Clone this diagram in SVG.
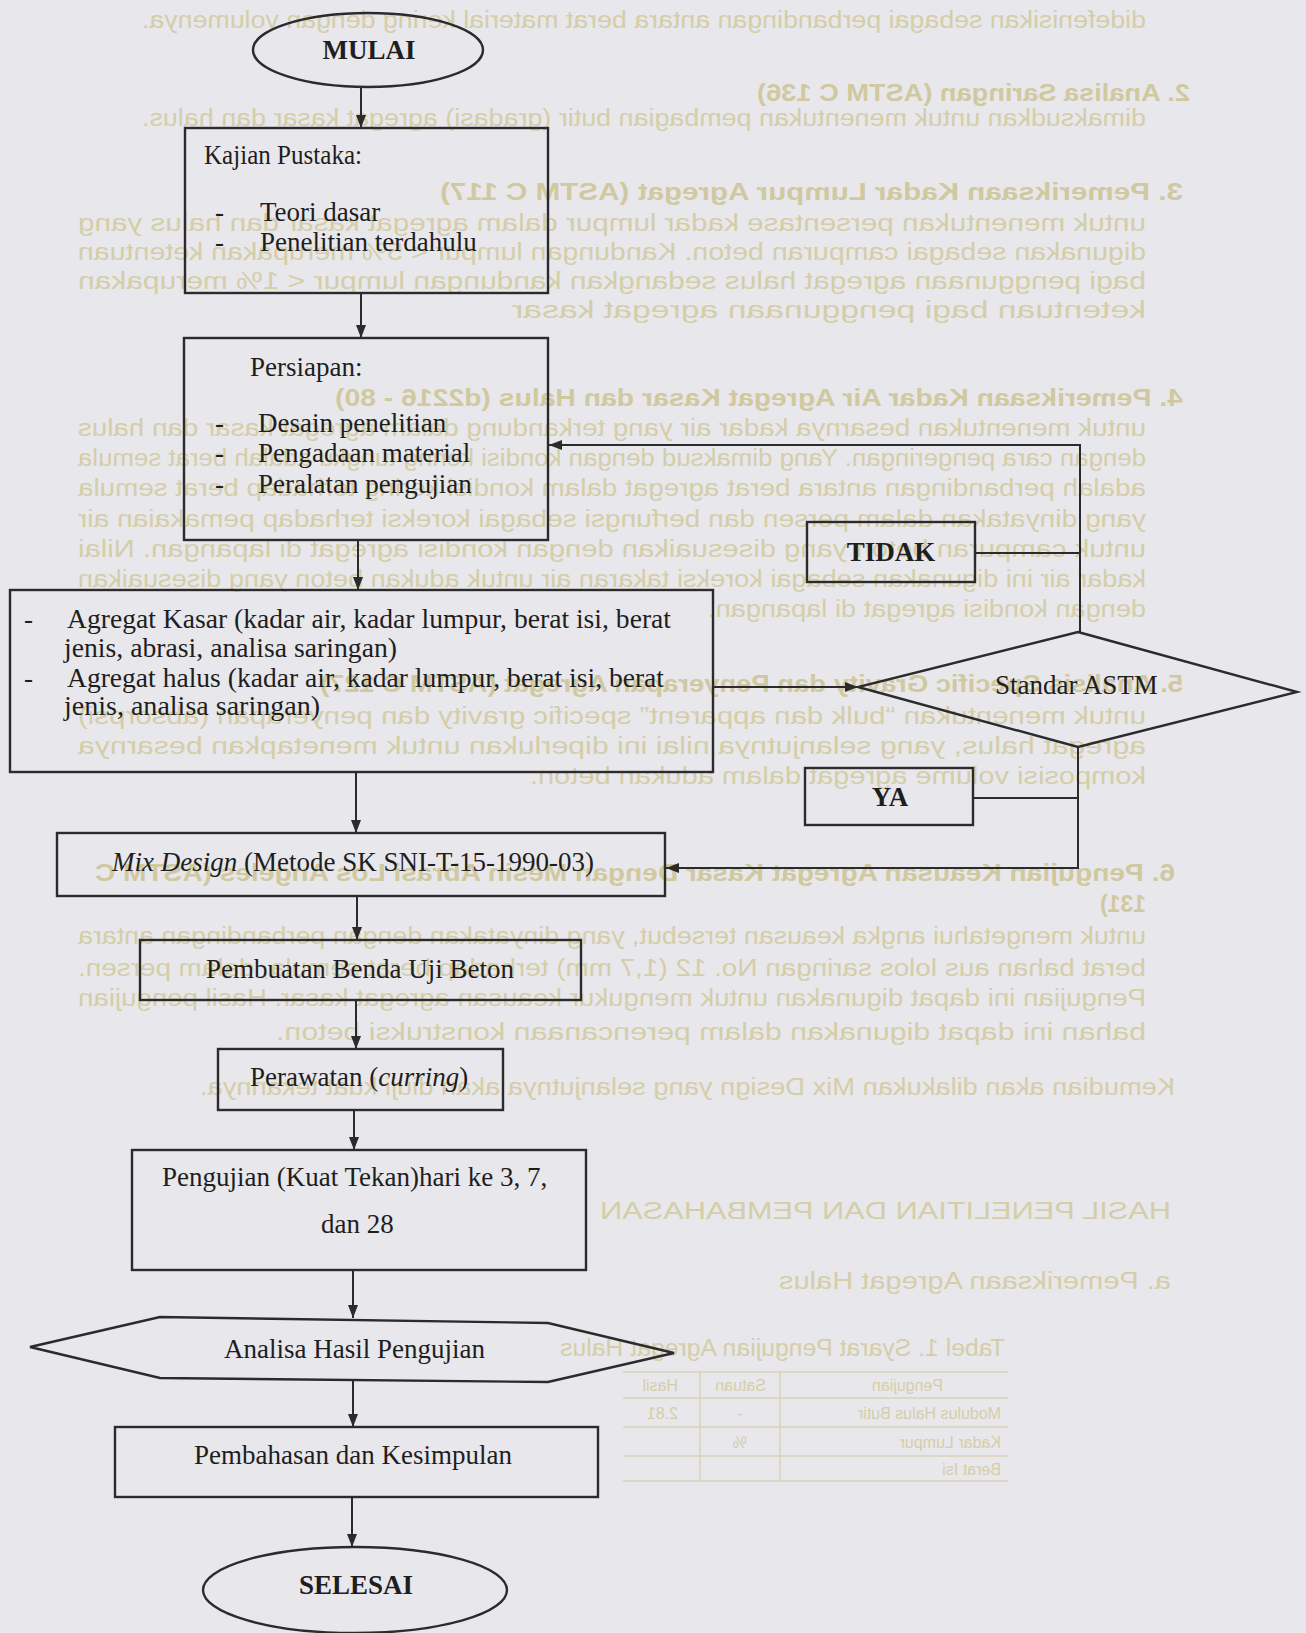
<svg xmlns="http://www.w3.org/2000/svg" width="1306" height="1633" viewBox="0 0 1306 1633">
<style>
.page{fill:#e8e7ec}
.bg{font-family:"Liberation Sans",Arial,sans-serif;font-size:23px;fill:#d4cea8}
.bgb{font-family:"Liberation Sans",Arial,sans-serif;font-size:23px;font-weight:bold;fill:#d0c99f}
.tb{font-family:"Liberation Sans",Arial,sans-serif;font-size:16px;fill:#d4cea8}
.tl{stroke:#d8d3b8;stroke-width:1.5;fill:none}
.box{fill:none;stroke:#2b2b2b;stroke-width:2.4}
.t{font-family:"Liberation Serif","Times New Roman",serif;font-size:27px;fill:#1e1e1e}
.b{font-weight:bold}
.i{font-style:italic}
.c{text-anchor:middle}
.con{fill:none;stroke:#2b2b2b;stroke-width:2}
</style>
<defs>
<marker id="ah" markerUnits="userSpaceOnUse" markerWidth="14" markerHeight="12" refX="13" refY="5" orient="auto">
<path d="M0,0 L13,5 L0,10 z" fill="#2b2b2b"/>
</marker>
</defs>
<rect class="page" x="0" y="0" width="1306" height="1633"/>
<g id="page-showthrough" transform="matrix(-1 0 0 1 1223 0)">
<text class="bg" x="77" y="28" textLength="1004" lengthAdjust="spacingAndGlyphs">didefenisikan sebagai perbandingan antara berat material kering dengan volumenya.</text>
<text class="bgb" x="33" y="101" textLength="433" lengthAdjust="spacingAndGlyphs">2. Analisa Saringan (ASTM C 136)</text>
<text class="bg" x="77" y="126" textLength="1004" lengthAdjust="spacingAndGlyphs">dimaksudkan untuk menentukan pembagian butir (gradasi) agregat kasar dan halus.</text>
<text class="bgb" x="40" y="200" textLength="743" lengthAdjust="spacingAndGlyphs">3. Pemeriksaan Kadar Lumpur Agregat (ASTM C 117)</text>
<text class="bg" x="77" y="231" textLength="1068" lengthAdjust="spacingAndGlyphs">untuk menentukan persentase kadar lumpur dalam agregat kasar dan halus yang</text>
<text class="bg" x="77" y="260" textLength="1068" lengthAdjust="spacingAndGlyphs">digunakan sebagai campuran beton. Kandungan lumpur &lt; 5% merupakan ketentuan</text>
<text class="bg" x="77" y="289" textLength="1068" lengthAdjust="spacingAndGlyphs">bagi penggunaan agregat halus sedangkan kandungan lumpur &lt; 1% merupakan</text>
<text class="bg" x="77" y="318" textLength="634" lengthAdjust="spacingAndGlyphs">ketentuan bagi penggunaan agregat kasar</text>
<text class="bgb" x="40" y="406" textLength="848" lengthAdjust="spacingAndGlyphs">4. Pemeriksaan Kadar Air Agregat Kasar dan Halus (d2216 - 80)</text>
<text class="bg" x="77" y="436" textLength="1068" lengthAdjust="spacingAndGlyphs">untuk menentukan besarnya kadar air yang terkandung dalam agregat kasar dan halus</text>
<text class="bg" x="77" y="466" textLength="1068" lengthAdjust="spacingAndGlyphs">dengan cara pengeringan. Yang dimaksud dengan kondisi kering tungku adalah berat semula</text>
<text class="bg" x="77" y="496" textLength="1068" lengthAdjust="spacingAndGlyphs">adalah perbandingan antara berat agregat dalam kondisi kering terhadap berat semula</text>
<text class="bg" x="77" y="527" textLength="1068" lengthAdjust="spacingAndGlyphs">yang dinyatakan dalam persen dan berfungsi sebagai koreksi terhadap pemakaian air</text>
<text class="bg" x="77" y="557" textLength="1068" lengthAdjust="spacingAndGlyphs">untuk campuran beton yang disesuaikan dengan kondisi agregat di lapangan. Nilai</text>
<text class="bg" x="77" y="587" textLength="1068" lengthAdjust="spacingAndGlyphs">kadar air ini digunakan sebagai koreksi takaran air untuk adukan beton yang disesuaikan</text>
<text class="bg" x="77" y="617" textLength="438" lengthAdjust="spacingAndGlyphs">dengan kondisi agregat di lapangan.</text>
<text class="bgb" x="40" y="692" textLength="863" lengthAdjust="spacingAndGlyphs">5. Analisis Specific Gravity dan Penyerapan Agregat (ASTM C 127)</text>
<text class="bg" x="77" y="724" textLength="1068" lengthAdjust="spacingAndGlyphs">untuk menentukan “bulk dan apparent” specific gravity dan penyerapan (absorpsi)</text>
<text class="bg" x="77" y="754" textLength="1068" lengthAdjust="spacingAndGlyphs">agregat halus, yang selanjutnya nilai ini diperlukan untuk menetapkan besarnya</text>
<text class="bg" x="77" y="784" textLength="616" lengthAdjust="spacingAndGlyphs">komposisi volume agregat dalam adukan beton.</text>
<text class="bgb" x="48" y="881" textLength="1080" lengthAdjust="spacingAndGlyphs">6. Pengujian Keausan Agregat Kasar Dengan Mesin Abrasi Los Angeles (ASTM C</text>
<text class="bgb" x="77" y="912">131)</text>
<text class="bg" x="77" y="944" textLength="1068" lengthAdjust="spacingAndGlyphs">untuk mengetahui angka keausan tersebut, yang dinyatakan dengan perbandingan antara</text>
<text class="bg" x="77" y="976" textLength="1068" lengthAdjust="spacingAndGlyphs">berat bahan aus lolos saringan No. 12 (1,7 mm) terhadap berat semula, dalam persen.</text>
<text class="bg" x="77" y="1006" textLength="1068" lengthAdjust="spacingAndGlyphs">Pengujian ini dapat digunakan untuk mengukur keausan agregat kasar. Hasil pengujian</text>
<text class="bg" x="77" y="1040" textLength="870" lengthAdjust="spacingAndGlyphs">bahan ini dapat digunakan dalam perencanaan konstruksi beton.</text>
<text class="bg" x="48" y="1095" textLength="975" lengthAdjust="spacingAndGlyphs">Kemudian akan dilakukan Mix Design yang selanjutnya akan diuji kuat tekannya.</text>
<text class="bg" x="52" y="1219" textLength="571" lengthAdjust="spacingAndGlyphs">HASIL PENELITIAN DAN PEMBAHASAN</text>
<text class="bg" x="52" y="1289" textLength="392" lengthAdjust="spacingAndGlyphs">a. Pemeriksaan Agregat Halus</text>
<text class="bg" x="218" y="1356" textLength="445" lengthAdjust="spacingAndGlyphs">Tabel 1. Syarat Pengujian Agregat Halus</text>
<path class="tl" d="M215,1372 H600 M215,1398 H600 M215,1427 H600 M215,1456 H600 M215,1481 H600 M443,1372 V1481 M523,1372 V1481"/>
<text class="tb" x="280" y="1391">Pengujian</text>
<text class="tb" x="457" y="1391">Satuan</text>
<text class="tb" x="545" y="1391">Hasil</text>
<text class="tb" x="222" y="1419">Modulus Halus Butir</text>
<text class="tb" x="480" y="1419">-</text>
<text class="tb" x="545" y="1419">2.81</text>
<text class="tb" x="222" y="1448">Kadar Lumpur</text>
<text class="tb" x="476" y="1448">%</text>
<text class="tb" x="222" y="1475">Berat Isi</text>
</g>
<g id="connectors">
<path class="con" d="M361,87 V128" marker-end="url(#ah)"/>
<path class="con" d="M361,293 V338" marker-end="url(#ah)"/>
<path class="con" d="M358,540 V590" marker-end="url(#ah)"/>
<path class="con" d="M356,772 V833" marker-end="url(#ah)"/>
<path class="con" d="M713,687 H858" marker-end="url(#ah)"/>
<path class="con" d="M1080,632 V445 H549" marker-end="url(#ah)"/>
<path class="con" d="M975,553 H1080"/>
<path class="con" d="M1078,747 V868 H666" marker-end="url(#ah)"/>
<path class="con" d="M973,798 H1078"/>
<path class="con" d="M357,896 V940" marker-end="url(#ah)"/>
<path class="con" d="M356,1000 V1049" marker-end="url(#ah)"/>
<path class="con" d="M354,1110 V1150" marker-end="url(#ah)"/>
<path class="con" d="M353,1270 V1318" marker-end="url(#ah)"/>
<path class="con" d="M353,1380 V1427" marker-end="url(#ah)"/>
<path class="con" d="M352,1497 V1547" marker-end="url(#ah)"/>
</g>
<g id="mulai">
<ellipse class="box" cx="368" cy="50" rx="115" ry="37"/>
<text class="t b c" x="369" y="59">MULAI</text>
</g>
<g id="kajian-pustaka">
<rect class="box" x="185" y="128" width="363" height="165"/>
<text class="t" x="204" y="164" textLength="158" lengthAdjust="spacingAndGlyphs">Kajian Pustaka:</text>
<text class="t" x="215" y="221">-</text>
<text class="t" x="260" y="221">Teori dasar</text>
<text class="t" x="215" y="251">-</text>
<text class="t" x="260" y="251">Penelitian terdahulu</text>
</g>
<g id="persiapan">
<rect class="box" x="184" y="338" width="364" height="202"/>
<text class="t" x="250" y="376">Persiapan:</text>
<text class="t" x="215" y="432">-</text>
<text class="t" x="258" y="432">Desain penelitian</text>
<text class="t" x="215" y="462">-</text>
<text class="t" x="258" y="462">Pengadaan material</text>
<text class="t" x="215" y="493">-</text>
<text class="t" x="258" y="493">Peralatan pengujian</text>
</g>
<g id="pengujian-agregat">
<rect class="box" x="10" y="590" width="703" height="182"/>
<text class="t" x="24" y="628">-</text>
<text class="t" x="67" y="628" textLength="604" lengthAdjust="spacingAndGlyphs">Agregat Kasar (kadar air, kadar lumpur, berat isi, berat</text>
<text class="t" x="64" y="657" textLength="333" lengthAdjust="spacingAndGlyphs">jenis, abrasi, analisa saringan)</text>
<text class="t" x="24" y="687">-</text>
<text class="t" x="67" y="687" textLength="597" lengthAdjust="spacingAndGlyphs">Agregat halus (kadar air, kadar lumpur, berat isi, berat</text>
<text class="t" x="64" y="715" textLength="256" lengthAdjust="spacingAndGlyphs">jenis, analisa saringan)</text>
</g>
<g id="standar-astm">
<polygon class="box" points="1078,632 1297,692 1078,747 858,687"/>
<text class="t" x="995" y="694">Standar ASTM</text>
</g>
<g id="tidak">
<rect class="box" x="807" y="522" width="168" height="60"/>
<text class="t b c" x="891" y="561">TIDAK</text>
</g>
<g id="ya">
<rect class="box" x="805" y="768" width="168" height="57"/>
<text class="t b c" x="890" y="806">YA</text>
</g>
<g id="mix-design">
<rect class="box" x="57" y="833" width="608" height="63"/>
<text class="t" x="112" y="871"><tspan class="i">Mix Design</tspan> (Metode SK SNI-T-15-1990-03)</text>
</g>
<g id="pembuatan">
<rect class="box" x="140" y="940" width="441" height="60"/>
<text class="t c" x="360" y="978">Pembuatan Benda Uji Beton</text>
</g>
<g id="perawatan">
<rect class="box" x="218" y="1049" width="285" height="61"/>
<text class="t" x="250" y="1086">Perawatan (<tspan class="i">curring</tspan>)</text>
</g>
<g id="pengujian">
<rect class="box" x="132" y="1150" width="454" height="120"/>
<text class="t" x="162" y="1186">Pengujian (Kuat Tekan)hari ke 3, 7,</text>
<text class="t" x="321" y="1233">dan 28</text>
</g>
<g id="analisa">
<polygon class="box" points="30,1347 160,1317 548,1323 674,1353 548,1382 160,1378"/>
<text class="t" x="224" y="1358">Analisa Hasil Pengujian</text>
</g>
<g id="pembahasan">
<rect class="box" x="115" y="1427" width="483" height="70"/>
<text class="t" x="194" y="1464">Pembahasan dan Kesimpulan</text>
</g>
<g id="selesai">
<ellipse class="box" cx="355" cy="1590" rx="152" ry="43"/>
<text class="t b c" x="356" y="1594">SELESAI</text>
</g>
</svg>
